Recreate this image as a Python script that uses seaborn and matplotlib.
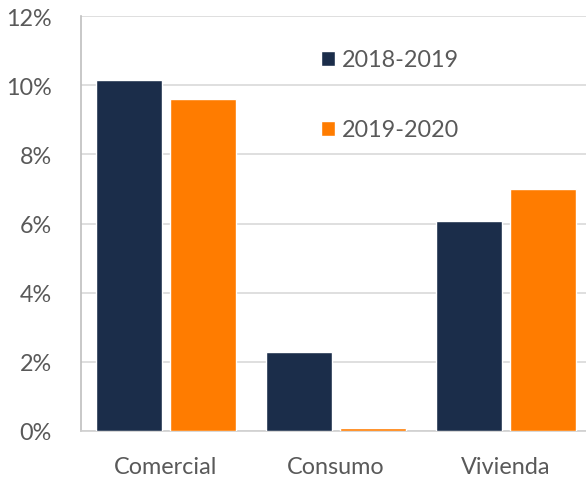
import matplotlib
matplotlib.use("Agg")
import matplotlib.pyplot as plt
import pandas as pd
import seaborn as sns
from matplotlib.ticker import FuncFormatter

# Valores (variación en %)
categorias = ["Comercial", "Consumo", "Vivienda"]
periodos = ["2018-2019", "2019-2020"]
valores_2018_2019 = [10.15, 2.28, 6.07]
valores_2019_2020 = [9.6, 0.1, 7.0]

df = pd.DataFrame({
    "categoria": categorias * 2,
    "periodo": [periodos[0]] * 3 + [periodos[1]] * 3,
    "valor": valores_2018_2019 + valores_2019_2020,
})

sns.set_style("white")
plt.rcParams["font.family"] = ["Lato", "DejaVu Sans"]
gris = "#595959"

fig = plt.figure(figsize=(5.86, 4.81), dpi=100)
ax = fig.add_axes([81 / 586, 1 - 432 / 481, 510 / 586, 415 / 481])

sns.barplot(
    data=df, x="categoria", y="valor", hue="periodo",
    palette=["#1b2d4a", "#ff7c00"], saturation=1, width=0.87, gap=0.12,
    errorbar=None, ax=ax, zorder=3,
)

ax.set_ylim(0, 12)
ax.set_yticks(range(0, 13, 2))
ax.yaxis.set_major_formatter(FuncFormatter(lambda v, p: f"{v:.0f}%"))
ax.grid(axis="y", color="#d9d9d9", linewidth=1.2, zorder=0)
ax.set_xlabel("")
ax.set_ylabel("")
ax.tick_params(axis="both", length=0, labelsize=16.8, labelcolor=gris)
ax.tick_params(axis="y", pad=21)
ax.tick_params(axis="x", pad=18)

for lado in ["top", "right"]:
    ax.spines[lado].set_visible(False)
ax.spines["left"].set_color("#bfbfbf")
ax.spines["bottom"].set_color("#d0d0d0")
ax.spines["left"].set_linewidth(1.2)
ax.spines["bottom"].set_linewidth(1.2)

leg = ax.legend(
    loc="upper left", bbox_to_anchor=(0.43, 0.97), frameon=False,
    fontsize=16.8, labelcolor=gris, handlelength=0.6, handleheight=0.6,
    handletextpad=0.3, labelspacing=2.1,
)

fig.savefig("out.png", dpi=100)
